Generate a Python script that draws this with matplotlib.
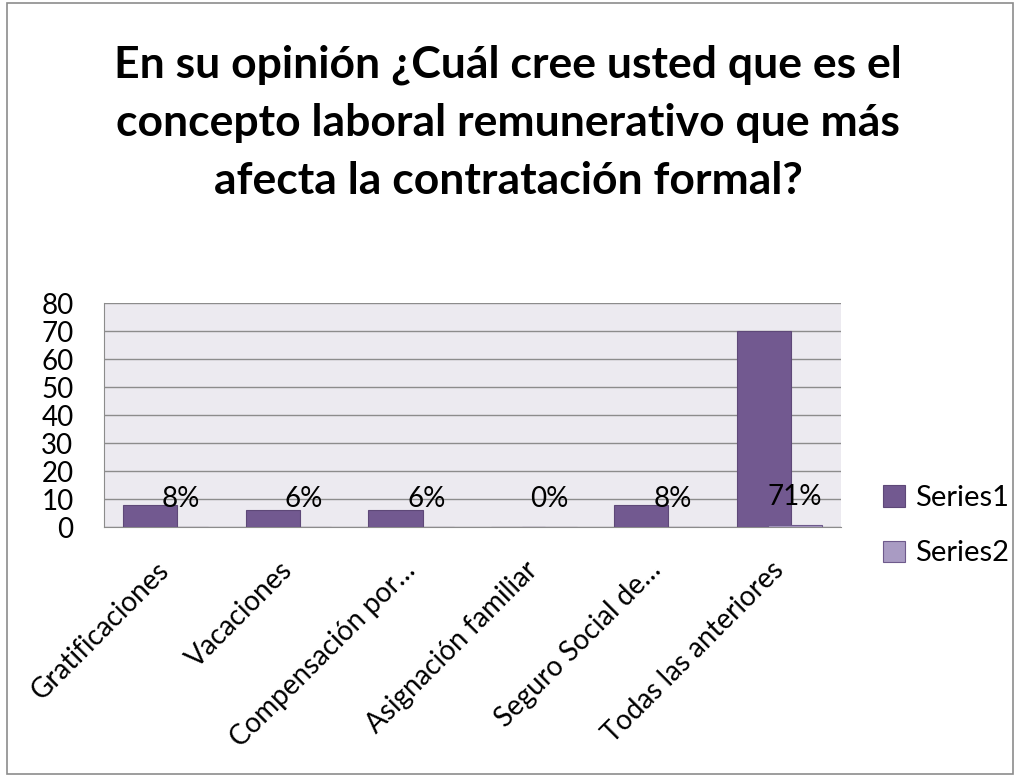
import matplotlib
matplotlib.use("Agg")
import matplotlib.pyplot as plt
from matplotlib.patches import Rectangle
import numpy as np

categories = ["Gratificaciones", "Vacaciones", "Compensación por…", "Asignación familiar",
              "Seguro Social de…", "Todas las anteriores"]
series1 = [8, 6, 6, 0, 8, 70]
series2 = [0.08, 0.06, 0.06, 0.0, 0.08, 0.71]
labels2 = ["8%", "6%", "6%", "0%", "8%", "71%"]
yticks = [0, 10, 20, 30, 40, 50, 60, 70, 80]

plt.rcParams['font.family'] = ['Lato', 'DejaVu Sans']
FS = 20

fig = plt.figure(figsize=(10.16, 7.76), dpi=100)
W, H = 1016, 776
ax = fig.add_axes([104 / W, 1 - 527 / H, (841 - 104) / W, (527 - 303) / H])
ax.set_facecolor('#ECEAF0')

x = np.arange(len(categories))
w = 0.44
off = 0.127
c1 = '#725990'
c2 = '#A99BC3'
ax.bar(x - off, series1, width=w, color=c1, edgecolor='#5E4878', linewidth=0.8, label='Series1', zorder=3)
ax.bar(x + off, series2, width=w, color=c2, edgecolor='#6E5A8C', linewidth=0.8, label='Series2', zorder=4)

for xi, v, lab in zip(x, series2, labels2):
    ax.annotate(lab, (xi + off, v), xytext=(0, 20), textcoords='offset points',
                ha='center', va='center', fontsize=FS, color='black', zorder=5)

ax.set_xlim(-0.5, len(categories) - 0.5)
ax.set_ylim(0, 80)
ax.set_yticks(yticks)
ax.set_yticklabels([str(t) for t in yticks], fontsize=FS)
ax.yaxis.grid(True, color='#8C8C8C', linewidth=1.0, zorder=1)
ax.set_axisbelow(True)
for s in ['top', 'right']:
    ax.spines[s].set_visible(False)
ax.spines['left'].set_color('#8C8C8C')
ax.spines['bottom'].set_color('#8C8C8C')
ax.tick_params(axis='y', length=0, pad=22)
ax.tick_params(axis='x', length=0, pad=28)
ax.set_xticks(x + 0.0)
ax.set_xticklabels(categories, rotation=45, ha='right', va='center', rotation_mode='anchor', fontsize=FS)

leg = ax.legend(loc='center left', bbox_to_anchor=(1.057, 0.005), frameon=False, fontsize=21,
                handlelength=0.75, handleheight=0.75, handletextpad=0.35, labelspacing=1.0,
                borderaxespad=0, borderpad=0)

fig.text(0.5, 1 - 123 / H,
         "En su opinión ¿Cuál cree usted que es el\nconcepto laboral remunerativo que más\nafecta la contratación formal?",
         ha='center', va='center', fontsize=32, fontweight='bold', linespacing=1.55)

fig.patches.append(Rectangle((7 / W, 2 / H), 1 - 10 / W, 1 - 5 / H, transform=fig.transFigure,
                             fill=False, edgecolor='#8C8C8C', linewidth=1.2))

fig.savefig('out.png', dpi=100, facecolor='white')
